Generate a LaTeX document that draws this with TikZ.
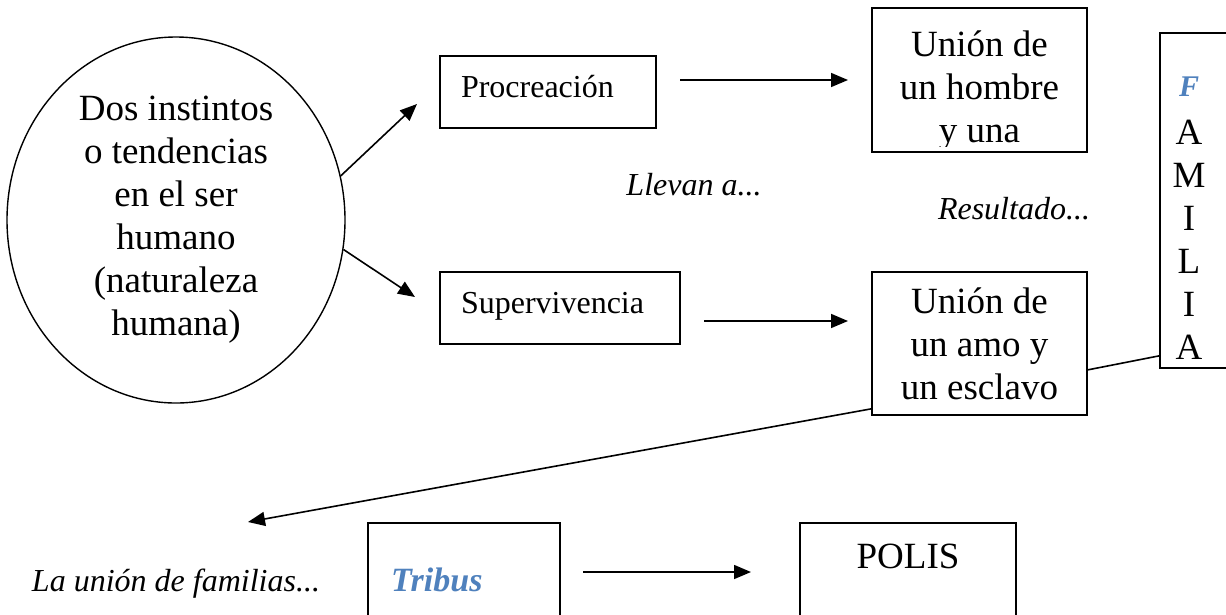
\documentclass[tikz,border=0pt]{standalone}
\usepackage{fontspec}
\setmainfont{Liberation Serif}
\usetikzlibrary{shapes.geometric,arrows.meta,calc}
\definecolor{wblue}{HTML}{4F81BD}
\begin{document}
\begin{tikzpicture}[x=1pt,y=-1pt,
  box/.style={draw, rectangle, inner sep=0pt, line width=1.7pt},
  big/.style={font=\fontsize{37}{43}\selectfont},
  mid/.style={font=\fontsize{32}{37}\selectfont},
  lab/.style={font=\fontsize{32}{37}\selectfont\itshape, inner sep=0pt},
  bluelab/.style={font=\fontsize{34}{39}\selectfont\bfseries\itshape, text=wblue, inner sep=0pt},
  arr/.style={-{Triangle[length=17pt,width=14pt]}, line width=1.6pt},
  conn/.style={line width=1.6pt},
  ]
\useasboundingbox (0,0) rectangle (1226,614);
\fill[white] (0,0) rectangle (1226,614);

% ellipse
\node[draw, ellipse, line width=1.4pt, minimum width=338pt, minimum height=366pt,
      inner sep=0pt, align=center, big] (inst) at (176,220)
  {Dos instintos\\o tendencias\\en el ser\\humano\\(naturaleza\\humana)};

% first column boxes
\node[box, mid, minimum width=216pt, minimum height=72pt, text width=174pt,
      align=left, text height=24pt, text depth=14pt] (proc) at (548,92) {Procreación};
\node[box, mid, minimum width=240pt, minimum height=72pt, text width=198pt,
      align=left, text height=24pt, text depth=14pt] (superv) at (560,308) {Supervivencia};

% second column boxes
\node[box, minimum width=215pt, minimum height=144pt] (hombre) at (979.5,80) {};
\begin{scope}
  \clip (hombre.north west) rectangle ([yshift=6pt]hombre.south east);
  \node[big, align=center, inner sep=0pt, anchor=north] (hombretxt) at (979.5,31)
    {Unión de\\un hombre\\y una};
\end{scope}
\node[box, big, align=center, minimum width=215pt, minimum height=143pt] (amo) at (979.5,343.5)
  {Unión de\\un amo y\\un esclavo};

% FAMILIA
\node[box, minimum width=90pt, minimum height=335pt] (fam) at (1205,200.5) {};
\node[big, align=center, inner sep=0pt, anchor=north] (famtxt) at (1189,77)
  {{\fontsize{30}{42.5}\selectfont\bfseries\itshape\color{wblue}F}\\[4.5pt]
   A\\M\\I\\L\\I\\A};

% bottom row
\node[box, minimum width=192pt, minimum height=137pt] (tribus) at (464,591.5) {};
\node[bluelab, anchor=base west] (tribustxt) at (391,591) {Tribus};
\node[box, minimum width=216pt, minimum height=137pt] (polis) at (908,591.5) {};
\node[big, anchor=base, inner sep=0pt] (polistxt) at (908,568) {POLIS};

% italic labels
\node[lab, anchor=base] (llevan) at (694,195) {Llevan a...};
\node[lab, anchor=base] (result) at (1014,219) {Resultado...};
\node[lab, anchor=base] (union) at (176,591) {La unión de familias...};

% free ends of connectors
\coordinate (t1) at (417,104);
\coordinate (t2) at (415,297);
\coordinate (h1s) at (680,80);
\coordinate (h1e) at (848,80);
\coordinate (h2s) at (704,321);
\coordinate (h2e) at (848,321);
\coordinate (h3s) at (583,572);
\coordinate (h3e) at (751,572);
\coordinate (ltip) at (248,522);

% connectors
\draw[arr] (inst.15) -- (t1);
\draw[arr] (inst.-10) -- (t2);
\draw[arr] (h1s) -- (h1e);
\draw[arr] (h2s) -- (h2e);
\draw[arr] (h3s) -- (h3e);
\draw[conn] ($(fam.south west)+(0,-13)$) -- ($(amo.south east)+(0,-46)$);
\draw[arr] ($(amo.south west)+(0,-7)$) -- (ltip);
\end{tikzpicture}
\end{document}
